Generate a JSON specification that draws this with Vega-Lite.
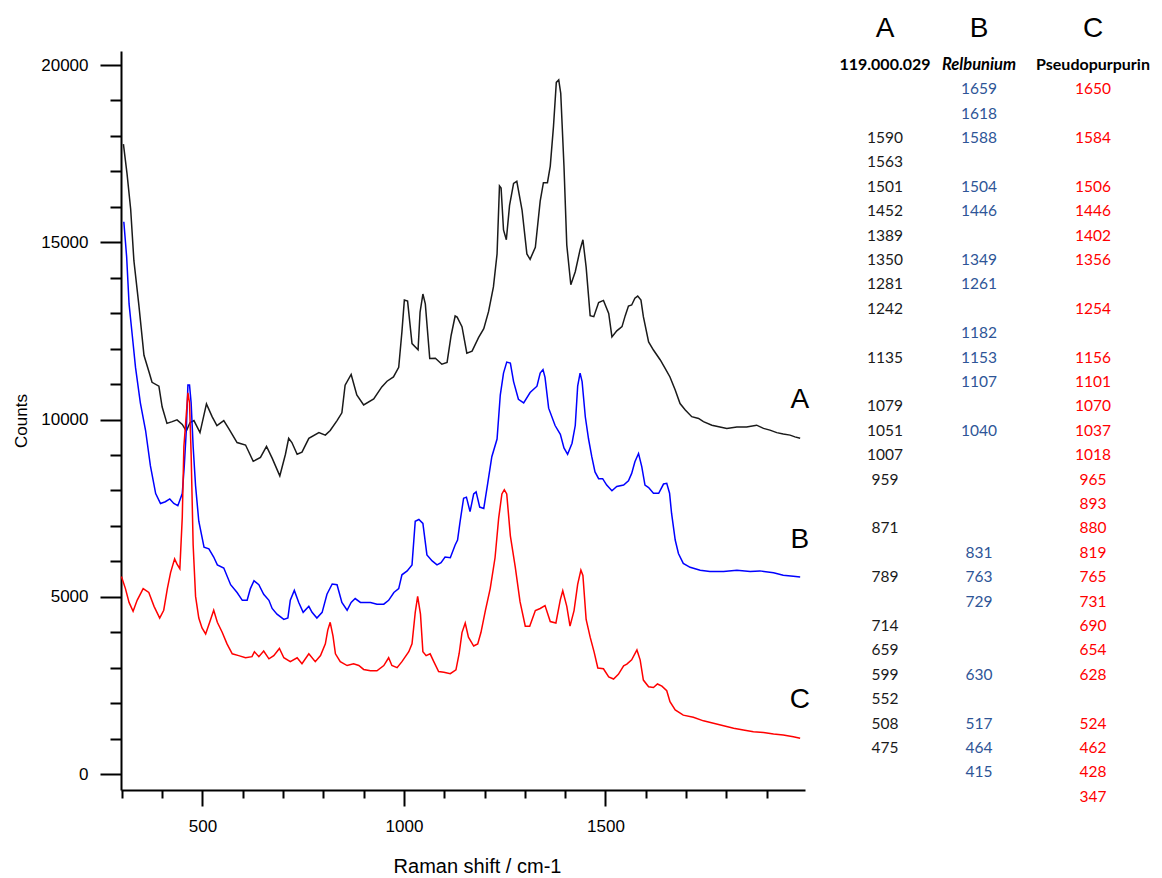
{
  "$schema": "https://vega.github.io/schema/vega-lite/v6.json",
  "background": "white",
  "padding": {"left": 12, "top": 14, "right": 5, "bottom": 0},
  "bounds": "flush",
  "spacing": 28,
  "datasets": {
    "spectra": [
      {"s":"A","x":304,"y":17770},{"s":"A","x":313,"y":16930},{"s":"A","x":322,"y":15930},{"s":"A","x":330,"y":14480},{"s":"A","x":342,"y":13260},{"s":"A","x":355,"y":11810},{"s":"A","x":367,"y":11360},{"s":"A","x":375,"y":11050},{"s":"A","x":392,"y":10940},{"s":"A","x":400,"y":10360},{"s":"A","x":412,"y":9890},{"s":"A","x":425,"y":9940},{"s":"A","x":437,"y":9990},{"s":"A","x":450,"y":9860},{"s":"A","x":460,"y":9670},{"s":"A","x":469,"y":9910},{"s":"A","x":479,"y":9970},{"s":"A","x":494,"y":9630},{"s":"A","x":510,"y":10440},{"s":"A","x":524,"y":10080},{"s":"A","x":536,"y":9830},{"s":"A","x":553,"y":9970},{"s":"A","x":565,"y":9750},{"s":"A","x":586,"y":9350},{"s":"A","x":607,"y":9280},{"s":"A","x":626,"y":8820},{"s":"A","x":644,"y":8930},{"s":"A","x":659,"y":9240},{"s":"A","x":673,"y":8910},{"s":"A","x":692,"y":8410},{"s":"A","x":706,"y":9020},{"s":"A","x":714,"y":9470},{"s":"A","x":722,"y":9350},{"s":"A","x":735,"y":9020},{"s":"A","x":747,"y":9080},{"s":"A","x":764,"y":9470},{"s":"A","x":789,"y":9630},{"s":"A","x":805,"y":9560},{"s":"A","x":817,"y":9690},{"s":"A","x":834,"y":9970},{"s":"A","x":846,"y":10190},{"s":"A","x":854,"y":10970},{"s":"A","x":869,"y":11270},{"s":"A","x":883,"y":10690},{"s":"A","x":900,"y":10410},{"s":"A","x":925,"y":10580},{"s":"A","x":945,"y":10920},{"s":"A","x":958,"y":11080},{"s":"A","x":974,"y":11200},{"s":"A","x":987,"y":11470},{"s":"A","x":995,"y":12480},{"s":"A","x":1001,"y":13370},{"s":"A","x":1009,"y":13340},{"s":"A","x":1020,"y":12140},{"s":"A","x":1035,"y":11970},{"s":"A","x":1040,"y":13030},{"s":"A","x":1047,"y":13540},{"s":"A","x":1053,"y":13260},{"s":"A","x":1064,"y":11720},{"s":"A","x":1078,"y":11730},{"s":"A","x":1094,"y":11560},{"s":"A","x":1107,"y":11610},{"s":"A","x":1117,"y":12370},{"s":"A","x":1127,"y":12920},{"s":"A","x":1132,"y":12890},{"s":"A","x":1144,"y":12620},{"s":"A","x":1156,"y":11870},{"s":"A","x":1169,"y":11930},{"s":"A","x":1185,"y":12310},{"s":"A","x":1198,"y":12560},{"s":"A","x":1210,"y":13050},{"s":"A","x":1222,"y":13740},{"s":"A","x":1231,"y":14670},{"s":"A","x":1237,"y":16590},{"s":"A","x":1241,"y":16530},{"s":"A","x":1247,"y":15350},{"s":"A","x":1254,"y":15070},{"s":"A","x":1262,"y":16040},{"s":"A","x":1272,"y":16660},{"s":"A","x":1280,"y":16720},{"s":"A","x":1293,"y":15910},{"s":"A","x":1305,"y":14670},{"s":"A","x":1313,"y":14520},{"s":"A","x":1326,"y":14860},{"s":"A","x":1338,"y":16160},{"s":"A","x":1346,"y":16680},{"s":"A","x":1356,"y":16680},{"s":"A","x":1363,"y":17150},{"s":"A","x":1371,"y":18270},{"s":"A","x":1378,"y":19510},{"s":"A","x":1384,"y":19580},{"s":"A","x":1389,"y":19200},{"s":"A","x":1397,"y":17150},{"s":"A","x":1404,"y":14920},{"s":"A","x":1414,"y":13800},{"s":"A","x":1425,"y":14170},{"s":"A","x":1437,"y":14790},{"s":"A","x":1444,"y":15070},{"s":"A","x":1452,"y":14300},{"s":"A","x":1462,"y":12930},{"s":"A","x":1471,"y":12900},{"s":"A","x":1483,"y":13300},{"s":"A","x":1495,"y":13360},{"s":"A","x":1508,"y":12990},{"s":"A","x":1516,"y":12330},{"s":"A","x":1528,"y":12500},{"s":"A","x":1541,"y":12620},{"s":"A","x":1549,"y":12930},{"s":"A","x":1557,"y":13200},{"s":"A","x":1565,"y":13230},{"s":"A","x":1573,"y":13420},{"s":"A","x":1580,"y":13480},{"s":"A","x":1588,"y":13370},{"s":"A","x":1594,"y":12900},{"s":"A","x":1607,"y":12190},{"s":"A","x":1619,"y":11960},{"s":"A","x":1636,"y":11680},{"s":"A","x":1648,"y":11440},{"s":"A","x":1660,"y":11200},{"s":"A","x":1673,"y":10830},{"s":"A","x":1685,"y":10450},{"s":"A","x":1698,"y":10270},{"s":"A","x":1714,"y":10080},{"s":"A","x":1731,"y":10030},{"s":"A","x":1743,"y":9940},{"s":"A","x":1764,"y":9840},{"s":"A","x":1784,"y":9790},{"s":"A","x":1801,"y":9750},{"s":"A","x":1826,"y":9790},{"s":"A","x":1850,"y":9790},{"s":"A","x":1875,"y":9840},{"s":"A","x":1892,"y":9750},{"s":"A","x":1908,"y":9700},{"s":"A","x":1925,"y":9630},{"s":"A","x":1941,"y":9590},{"s":"A","x":1958,"y":9560},{"s":"A","x":1970,"y":9510},{"s":"A","x":1983,"y":9470},
      {"s":"B","x":305,"y":15580},{"s":"B","x":312,"y":14590},{"s":"B","x":318,"y":13260},{"s":"B","x":326,"y":12370},{"s":"B","x":334,"y":11470},{"s":"B","x":346,"y":10470},{"s":"B","x":359,"y":9690},{"s":"B","x":371,"y":8690},{"s":"B","x":384,"y":7910},{"s":"B","x":396,"y":7630},{"s":"B","x":408,"y":7680},{"s":"B","x":419,"y":7760},{"s":"B","x":429,"y":7630},{"s":"B","x":439,"y":7570},{"s":"B","x":450,"y":7910},{"s":"B","x":455,"y":8690},{"s":"B","x":460,"y":9690},{"s":"B","x":464,"y":10970},{"s":"B","x":468,"y":10970},{"s":"B","x":472,"y":10470},{"s":"B","x":477,"y":9240},{"s":"B","x":483,"y":8130},{"s":"B","x":491,"y":7130},{"s":"B","x":504,"y":6400},{"s":"B","x":516,"y":6350},{"s":"B","x":528,"y":6120},{"s":"B","x":537,"y":5900},{"s":"B","x":553,"y":5810},{"s":"B","x":570,"y":5340},{"s":"B","x":586,"y":5120},{"s":"B","x":599,"y":4900},{"s":"B","x":611,"y":4900},{"s":"B","x":619,"y":5230},{"s":"B","x":628,"y":5450},{"s":"B","x":640,"y":5340},{"s":"B","x":652,"y":5070},{"s":"B","x":665,"y":4900},{"s":"B","x":673,"y":4670},{"s":"B","x":685,"y":4510},{"s":"B","x":702,"y":4360},{"s":"B","x":712,"y":4400},{"s":"B","x":718,"y":4900},{"s":"B","x":728,"y":5180},{"s":"B","x":739,"y":4840},{"s":"B","x":750,"y":4560},{"s":"B","x":764,"y":4730},{"s":"B","x":772,"y":4560},{"s":"B","x":784,"y":4400},{"s":"B","x":797,"y":4560},{"s":"B","x":809,"y":5070},{"s":"B","x":822,"y":5360},{"s":"B","x":834,"y":5340},{"s":"B","x":846,"y":4840},{"s":"B","x":859,"y":4620},{"s":"B","x":869,"y":4840},{"s":"B","x":879,"y":4950},{"s":"B","x":892,"y":4840},{"s":"B","x":917,"y":4840},{"s":"B","x":933,"y":4790},{"s":"B","x":950,"y":4790},{"s":"B","x":962,"y":4900},{"s":"B","x":975,"y":5120},{"s":"B","x":987,"y":5230},{"s":"B","x":995,"y":5620},{"s":"B","x":1008,"y":5730},{"s":"B","x":1020,"y":5900},{"s":"B","x":1028,"y":7130},{"s":"B","x":1037,"y":7180},{"s":"B","x":1047,"y":7070},{"s":"B","x":1057,"y":6180},{"s":"B","x":1070,"y":6010},{"s":"B","x":1082,"y":5900},{"s":"B","x":1092,"y":5960},{"s":"B","x":1102,"y":6120},{"s":"B","x":1115,"y":6100},{"s":"B","x":1127,"y":6460},{"s":"B","x":1133,"y":6600},{"s":"B","x":1139,"y":7100},{"s":"B","x":1148,"y":7780},{"s":"B","x":1155,"y":7810},{"s":"B","x":1164,"y":7400},{"s":"B","x":1173,"y":7900},{"s":"B","x":1179,"y":7960},{"s":"B","x":1188,"y":7530},{"s":"B","x":1198,"y":7490},{"s":"B","x":1208,"y":8210},{"s":"B","x":1218,"y":8950},{"s":"B","x":1231,"y":9450},{"s":"B","x":1239,"y":10690},{"s":"B","x":1247,"y":11310},{"s":"B","x":1255,"y":11620},{"s":"B","x":1264,"y":11590},{"s":"B","x":1272,"y":11070},{"s":"B","x":1284,"y":10570},{"s":"B","x":1297,"y":10470},{"s":"B","x":1313,"y":10760},{"s":"B","x":1330,"y":10940},{"s":"B","x":1338,"y":11310},{"s":"B","x":1345,"y":11410},{"s":"B","x":1350,"y":11190},{"s":"B","x":1359,"y":10320},{"s":"B","x":1375,"y":9830},{"s":"B","x":1388,"y":9580},{"s":"B","x":1397,"y":9200},{"s":"B","x":1406,"y":9020},{"s":"B","x":1417,"y":9330},{"s":"B","x":1425,"y":9830},{"s":"B","x":1431,"y":10940},{"s":"B","x":1437,"y":11310},{"s":"B","x":1442,"y":11070},{"s":"B","x":1450,"y":10070},{"s":"B","x":1458,"y":9450},{"s":"B","x":1466,"y":8950},{"s":"B","x":1474,"y":8520},{"s":"B","x":1483,"y":8330},{"s":"B","x":1493,"y":8330},{"s":"B","x":1503,"y":8150},{"s":"B","x":1516,"y":7990},{"s":"B","x":1528,"y":8110},{"s":"B","x":1545,"y":8150},{"s":"B","x":1557,"y":8270},{"s":"B","x":1565,"y":8480},{"s":"B","x":1573,"y":8810},{"s":"B","x":1582,"y":9040},{"s":"B","x":1590,"y":8670},{"s":"B","x":1598,"y":8150},{"s":"B","x":1607,"y":8080},{"s":"B","x":1619,"y":7920},{"s":"B","x":1632,"y":7920},{"s":"B","x":1644,"y":8180},{"s":"B","x":1652,"y":8200},{"s":"B","x":1659,"y":7920},{"s":"B","x":1664,"y":7350},{"s":"B","x":1673,"y":6600},{"s":"B","x":1681,"y":6220},{"s":"B","x":1693,"y":5940},{"s":"B","x":1710,"y":5830},{"s":"B","x":1735,"y":5750},{"s":"B","x":1759,"y":5710},{"s":"B","x":1793,"y":5710},{"s":"B","x":1826,"y":5750},{"s":"B","x":1859,"y":5710},{"s":"B","x":1883,"y":5730},{"s":"B","x":1917,"y":5680},{"s":"B","x":1941,"y":5610},{"s":"B","x":1966,"y":5580},{"s":"B","x":1983,"y":5560},
      {"s":"C","x":299,"y":5570},{"s":"C","x":309,"y":5230},{"s":"C","x":318,"y":4840},{"s":"C","x":328,"y":4590},{"s":"C","x":338,"y":4900},{"s":"C","x":353,"y":5230},{"s":"C","x":367,"y":5120},{"s":"C","x":380,"y":4730},{"s":"C","x":394,"y":4400},{"s":"C","x":404,"y":4620},{"s":"C","x":413,"y":5230},{"s":"C","x":421,"y":5680},{"s":"C","x":431,"y":6070},{"s":"C","x":437,"y":5920},{"s":"C","x":444,"y":5790},{"s":"C","x":450,"y":7240},{"s":"C","x":454,"y":9240},{"s":"C","x":460,"y":10140},{"s":"C","x":464,"y":10750},{"s":"C","x":468,"y":10470},{"s":"C","x":472,"y":9020},{"s":"C","x":477,"y":6460},{"s":"C","x":483,"y":5010},{"s":"C","x":491,"y":4400},{"s":"C","x":499,"y":4120},{"s":"C","x":508,"y":3950},{"s":"C","x":518,"y":4280},{"s":"C","x":528,"y":4620},{"s":"C","x":537,"y":4280},{"s":"C","x":549,"y":4000},{"s":"C","x":561,"y":3670},{"s":"C","x":574,"y":3390},{"s":"C","x":590,"y":3340},{"s":"C","x":607,"y":3280},{"s":"C","x":623,"y":3310},{"s":"C","x":629,"y":3450},{"s":"C","x":640,"y":3310},{"s":"C","x":652,"y":3470},{"s":"C","x":665,"y":3250},{"s":"C","x":677,"y":3340},{"s":"C","x":691,"y":3540},{"s":"C","x":702,"y":3280},{"s":"C","x":718,"y":3170},{"s":"C","x":735,"y":3280},{"s":"C","x":747,"y":3110},{"s":"C","x":764,"y":3390},{"s":"C","x":780,"y":3170},{"s":"C","x":793,"y":3340},{"s":"C","x":805,"y":3670},{"s":"C","x":811,"y":4060},{"s":"C","x":817,"y":4280},{"s":"C","x":824,"y":3890},{"s":"C","x":830,"y":3390},{"s":"C","x":842,"y":3170},{"s":"C","x":859,"y":3060},{"s":"C","x":875,"y":3110},{"s":"C","x":888,"y":3060},{"s":"C","x":900,"y":2950},{"s":"C","x":917,"y":2910},{"s":"C","x":933,"y":2910},{"s":"C","x":950,"y":3060},{"s":"C","x":962,"y":3280},{"s":"C","x":970,"y":3060},{"s":"C","x":983,"y":3000},{"s":"C","x":995,"y":3170},{"s":"C","x":1012,"y":3450},{"s":"C","x":1020,"y":3670},{"s":"C","x":1028,"y":4560},{"s":"C","x":1034,"y":5010},{"s":"C","x":1041,"y":4510},{"s":"C","x":1047,"y":3450},{"s":"C","x":1055,"y":3340},{"s":"C","x":1065,"y":3390},{"s":"C","x":1074,"y":3170},{"s":"C","x":1086,"y":2890},{"s":"C","x":1099,"y":2870},{"s":"C","x":1115,"y":2830},{"s":"C","x":1129,"y":2940},{"s":"C","x":1137,"y":3400},{"s":"C","x":1144,"y":3990},{"s":"C","x":1152,"y":4260},{"s":"C","x":1160,"y":3860},{"s":"C","x":1173,"y":3610},{"s":"C","x":1183,"y":3670},{"s":"C","x":1191,"y":3990},{"s":"C","x":1202,"y":4610},{"s":"C","x":1214,"y":5230},{"s":"C","x":1226,"y":6100},{"s":"C","x":1235,"y":7220},{"s":"C","x":1243,"y":7900},{"s":"C","x":1249,"y":8020},{"s":"C","x":1255,"y":7900},{"s":"C","x":1264,"y":6720},{"s":"C","x":1276,"y":5850},{"s":"C","x":1288,"y":4860},{"s":"C","x":1301,"y":4170},{"s":"C","x":1312,"y":4170},{"s":"C","x":1326,"y":4610},{"s":"C","x":1338,"y":4670},{"s":"C","x":1350,"y":4750},{"s":"C","x":1363,"y":4300},{"s":"C","x":1377,"y":4260},{"s":"C","x":1388,"y":4920},{"s":"C","x":1394,"y":5170},{"s":"C","x":1404,"y":4730},{"s":"C","x":1412,"y":4170},{"s":"C","x":1422,"y":4610},{"s":"C","x":1431,"y":5350},{"s":"C","x":1439,"y":5750},{"s":"C","x":1444,"y":5600},{"s":"C","x":1452,"y":4360},{"s":"C","x":1462,"y":3860},{"s":"C","x":1472,"y":3430},{"s":"C","x":1481,"y":2990},{"s":"C","x":1495,"y":2970},{"s":"C","x":1508,"y":2740},{"s":"C","x":1520,"y":2680},{"s":"C","x":1532,"y":2810},{"s":"C","x":1545,"y":3050},{"s":"C","x":1553,"y":3100},{"s":"C","x":1565,"y":3220},{"s":"C","x":1578,"y":3500},{"s":"C","x":1586,"y":3220},{"s":"C","x":1594,"y":2650},{"s":"C","x":1607,"y":2460},{"s":"C","x":1619,"y":2440},{"s":"C","x":1629,"y":2540},{"s":"C","x":1640,"y":2480},{"s":"C","x":1652,"y":2350},{"s":"C","x":1660,"y":2040},{"s":"C","x":1673,"y":1810},{"s":"C","x":1693,"y":1660},{"s":"C","x":1718,"y":1600},{"s":"C","x":1743,"y":1500},{"s":"C","x":1768,"y":1430},{"s":"C","x":1793,"y":1360},{"s":"C","x":1818,"y":1290},{"s":"C","x":1842,"y":1240},{"s":"C","x":1867,"y":1190},{"s":"C","x":1892,"y":1170},{"s":"C","x":1917,"y":1130},{"s":"C","x":1941,"y":1100},{"s":"C","x":1966,"y":1050},{"s":"C","x":1983,"y":1010}
    ],
    "curveLabels": [
      {"label":"A","x":1982,"y":10550},
      {"label":"B","x":1982,"y":6600},
      {"label":"C","x":1982,"y":2090}
    ],
    "table": [
      {"col":"A","row":0,"kind":"head","label":"A"},
      {"col":"B","row":0,"kind":"head","label":"B"},
      {"col":"C","row":0,"kind":"head","label":"C"},
      {"col":"A","row":0,"kind":"name","label":"119.000.029"},
      {"col":"B","row":0,"kind":"name","label":"Relbunium"},
      {"col":"C","row":0,"kind":"name","label":"Pseudopurpurin"},
      {"col":"B","row":1,"kind":"val","label":"1659"},{"col":"C","row":1,"kind":"val","label":"1650"},
      {"col":"B","row":2,"kind":"val","label":"1618"},
      {"col":"A","row":3,"kind":"val","label":"1590"},{"col":"B","row":3,"kind":"val","label":"1588"},{"col":"C","row":3,"kind":"val","label":"1584"},
      {"col":"A","row":4,"kind":"val","label":"1563"},
      {"col":"A","row":5,"kind":"val","label":"1501"},{"col":"B","row":5,"kind":"val","label":"1504"},{"col":"C","row":5,"kind":"val","label":"1506"},
      {"col":"A","row":6,"kind":"val","label":"1452"},{"col":"B","row":6,"kind":"val","label":"1446"},{"col":"C","row":6,"kind":"val","label":"1446"},
      {"col":"A","row":7,"kind":"val","label":"1389"},{"col":"C","row":7,"kind":"val","label":"1402"},
      {"col":"A","row":8,"kind":"val","label":"1350"},{"col":"B","row":8,"kind":"val","label":"1349"},{"col":"C","row":8,"kind":"val","label":"1356"},
      {"col":"A","row":9,"kind":"val","label":"1281"},{"col":"B","row":9,"kind":"val","label":"1261"},
      {"col":"A","row":10,"kind":"val","label":"1242"},{"col":"C","row":10,"kind":"val","label":"1254"},
      {"col":"B","row":11,"kind":"val","label":"1182"},
      {"col":"A","row":12,"kind":"val","label":"1135"},{"col":"B","row":12,"kind":"val","label":"1153"},{"col":"C","row":12,"kind":"val","label":"1156"},
      {"col":"B","row":13,"kind":"val","label":"1107"},{"col":"C","row":13,"kind":"val","label":"1101"},
      {"col":"A","row":14,"kind":"val","label":"1079"},{"col":"C","row":14,"kind":"val","label":"1070"},
      {"col":"A","row":15,"kind":"val","label":"1051"},{"col":"B","row":15,"kind":"val","label":"1040"},{"col":"C","row":15,"kind":"val","label":"1037"},
      {"col":"A","row":16,"kind":"val","label":"1007"},{"col":"C","row":16,"kind":"val","label":"1018"},
      {"col":"A","row":17,"kind":"val","label":"959"},{"col":"C","row":17,"kind":"val","label":"965"},
      {"col":"C","row":18,"kind":"val","label":"893"},
      {"col":"A","row":19,"kind":"val","label":"871"},{"col":"C","row":19,"kind":"val","label":"880"},
      {"col":"B","row":20,"kind":"val","label":"831"},{"col":"C","row":20,"kind":"val","label":"819"},
      {"col":"A","row":21,"kind":"val","label":"789"},{"col":"B","row":21,"kind":"val","label":"763"},{"col":"C","row":21,"kind":"val","label":"765"},
      {"col":"B","row":22,"kind":"val","label":"729"},{"col":"C","row":22,"kind":"val","label":"731"},
      {"col":"A","row":23,"kind":"val","label":"714"},{"col":"C","row":23,"kind":"val","label":"690"},
      {"col":"A","row":24,"kind":"val","label":"659"},{"col":"C","row":24,"kind":"val","label":"654"},
      {"col":"A","row":25,"kind":"val","label":"599"},{"col":"B","row":25,"kind":"val","label":"630"},{"col":"C","row":25,"kind":"val","label":"628"},
      {"col":"A","row":26,"kind":"val","label":"552"},
      {"col":"A","row":27,"kind":"val","label":"508"},{"col":"B","row":27,"kind":"val","label":"517"},{"col":"C","row":27,"kind":"val","label":"524"},
      {"col":"A","row":28,"kind":"val","label":"475"},{"col":"B","row":28,"kind":"val","label":"464"},{"col":"C","row":28,"kind":"val","label":"462"},
      {"col":"B","row":29,"kind":"val","label":"415"},{"col":"C","row":29,"kind":"val","label":"428"},
      {"col":"C","row":30,"kind":"val","label":"347"}
    ]
  },
  "hconcat": [
    {
      "width": 684,
      "height": 739,
      "layer": [
        {
          "data": {"name": "spectra"},
          "mark": {"type": "line", "strokeWidth": 1.5},
          "encoding": {
            "x": {
              "field": "x", "type": "quantitative",
              "scale": {"domain": [298, 1995], "nice": false, "zero": false},
              "axis": {
                "orient": "bottom", "values": [500, 1000, 1500], "format": "d",
                "tickSize": 16, "tickWidth": 2, "domainWidth": 2,
                "labelFontSize": 17, "labelPadding": 12,
                "title": "Raman shift / cm-1", "titleFontSize": 20, "titlePadding": 22,
                "titleX": 356, "titleAlign": "center"
              }
            },
            "y": {
              "field": "y", "type": "quantitative",
              "scale": {"domain": [-451, 20395], "nice": false, "zero": false},
              "axis": {
                "orient": "left", "values": [0, 5000, 10000, 15000, 20000], "format": "d",
                "tickSize": 21, "tickWidth": 2, "domainWidth": 2,
                "labelFontSize": 17, "labelPadding": 12,
                "title": "Counts", "titleFontSize": 17, "titlePadding": 10
              }
            },
            "color": {
              "field": "s", "type": "nominal",
              "scale": {"domain": ["A", "B", "C"], "range": ["#1a1a1a", "#0000ff", "#ff0000"]},
              "legend": null
            }
          }
        },
        {
          "data": {"name": "curveLabels"},
          "mark": {"type": "text", "font": "Liberation Sans", "fontSize": 28, "color": "#000", "align": "center", "baseline": "middle"},
          "encoding": {
            "x": {
              "field": "x", "type": "quantitative",
              "scale": {"domain": [298, 1995], "nice": false, "zero": false},
              "axis": {
                "orient": "bottom", "values": [300, 400, 600, 700, 800, 900, 1100, 1200, 1300, 1400, 1600, 1700, 1800, 1900],
                "tickSize": 8, "tickWidth": 2, "labels": false, "domain": false, "title": null
              }
            },
            "y": {
              "field": "y", "type": "quantitative",
              "scale": {"domain": [-451, 20395], "nice": false, "zero": false},
              "axis": {
                "orient": "left", "values": [1000, 2000, 3000, 4000, 6000, 7000, 8000, 9000, 11000, 12000, 13000, 14000, 16000, 17000, 18000, 19000],
                "tickSize": 11, "tickWidth": 2, "labels": false, "domain": false, "title": null
              }
            },
            "text": {"field": "label", "type": "nominal"}
          }
        }
      ],
      "resolve": {"axis": {"x": "independent", "y": "independent"}}
    },
    {
      "width": 312,
      "height": 739,
      "data": {"name": "table"},
      "encoding": {
        "x": {"field": "col", "type": "nominal", "scale": {"type": "point", "domain": ["A", "B", "C"], "padding": 0.5}, "axis": null},
        "y": {"field": "row", "type": "quantitative", "scale": {"domain": [-0.566, 29.72], "reverse": true, "nice": false, "zero": false}, "axis": null},
        "text": {"field": "label", "type": "nominal"}
      },
      "layer": [
        {
          "transform": [{"filter": "datum.kind === 'head' && datum.col !== 'B'"}],
          "mark": {"type": "text", "font": "Liberation Sans", "fontSize": 28, "color": "#000", "baseline": "middle", "align": "center", "dy": -36}
        },
        {
          "transform": [{"filter": "datum.kind === 'head' && datum.col === 'B'"}],
          "mark": {"type": "text", "font": "Liberation Sans", "fontSize": 28, "color": "#000", "baseline": "middle", "align": "center", "dy": -36, "dx": -10}
        },
        {
          "transform": [{"filter": "datum.kind === 'name' && datum.col !== 'B'"}],
          "mark": {"type": "text", "font": "Lato", "fontSize": 16, "fontWeight": "bold", "color": "#000", "baseline": "middle", "align": "center"}
        },
        {
          "transform": [{"filter": "datum.kind === 'name' && datum.col === 'B'"}],
          "mark": {"type": "text", "font": "Lato", "fontSize": 16.5, "fontWeight": "bold", "fontStyle": "italic", "color": "#000", "baseline": "middle", "align": "center", "dx": -10}
        },
        {
          "transform": [{"filter": "datum.kind === 'val' && datum.col !== 'B'"}],
          "mark": {"type": "text", "font": "Lato", "fontSize": 15.5, "baseline": "middle", "align": "center"},
          "encoding": {
            "color": {"field": "col", "type": "nominal", "scale": {"domain": ["A", "C"], "range": ["#000000", "#ff0000"]}, "legend": null}
          }
        },
        {
          "transform": [{"filter": "datum.kind === 'val' && datum.col === 'B'"}],
          "mark": {"type": "text", "font": "Lato", "fontSize": 15.5, "color": "#2e5597", "baseline": "middle", "align": "center", "dx": -10}
        }
      ]
    }
  ],
  "config": {
    "view": {"stroke": null},
    "axis": {
      "grid": false,
      "domainColor": "#000", "tickColor": "#000",
      "labelColor": "#000", "titleColor": "#000",
      "labelFont": "Liberation Sans", "titleFont": "Liberation Sans",
      "titleFontWeight": "normal"
    }
  }
}
